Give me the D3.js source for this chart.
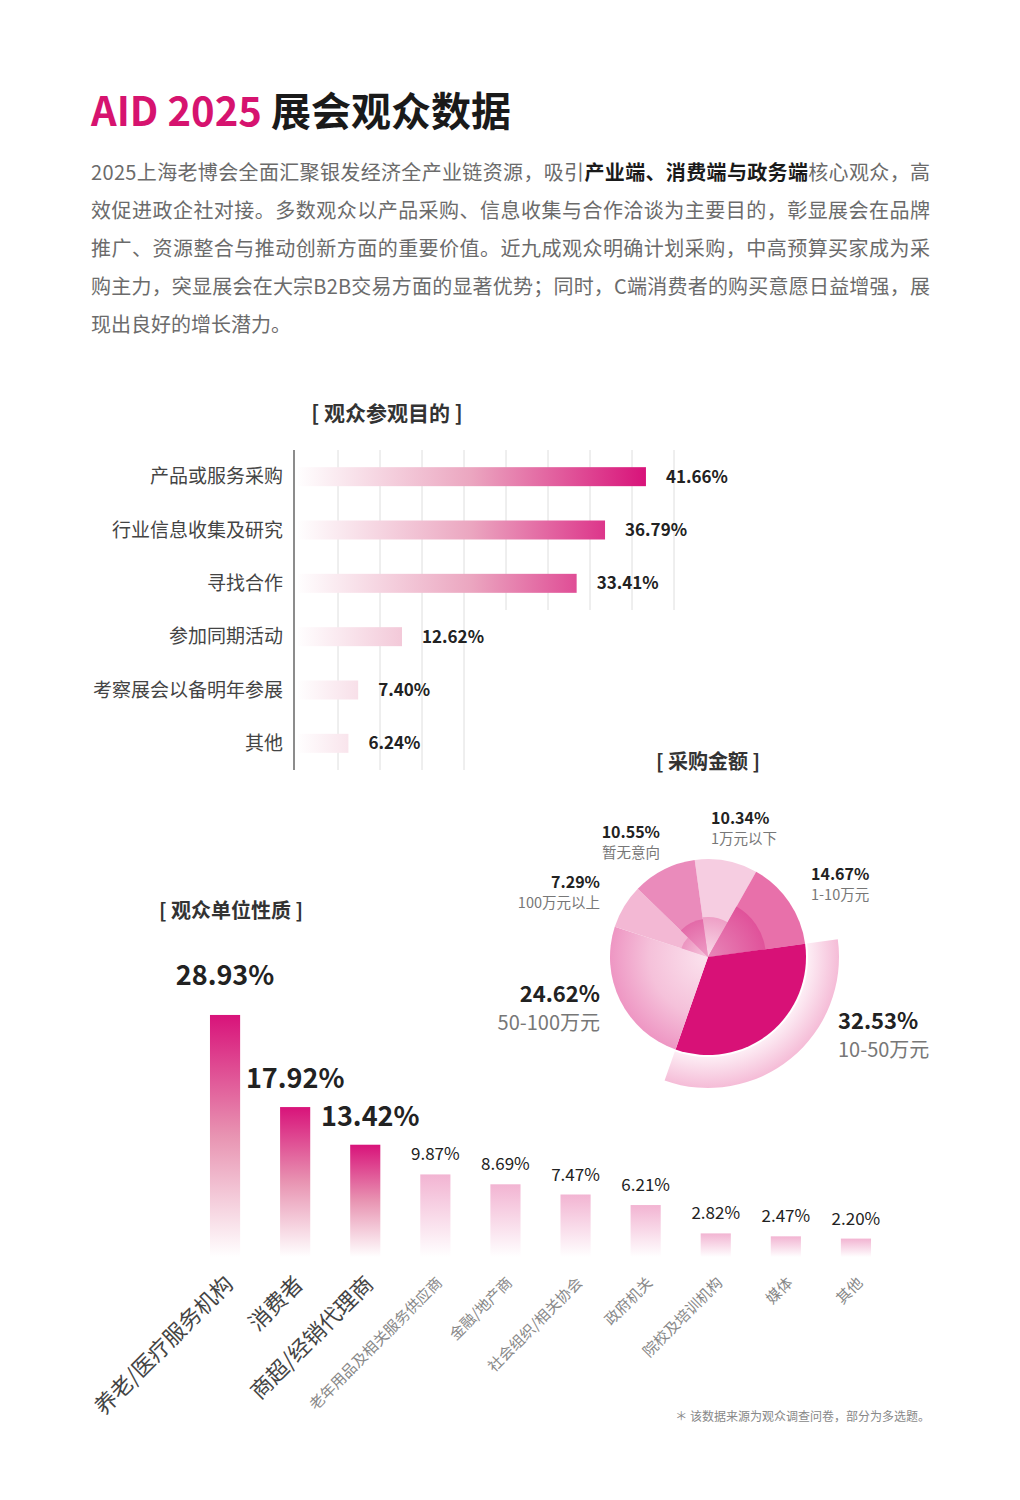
<!DOCTYPE html>
<html>
<head>
<meta charset="utf-8">
<script src="https://cdn.jsdelivr.net/npm/d3@7"></script>
<style>
  body { margin: 0; background: #fff; }
  svg { display: block; font-family: "Noto Sans CJK SC", "Noto Sans", sans-serif; }
</style>
</head>
<body>
<svg id="chart"></svg>
<script>
// ---- data ----
const introLines = [
  ["2025上海老博会全面汇聚银发经济全产业链资源，吸引", "产业端、消费端与政务端", "核心观众，高"],
  ["效促进政企社对接。多数观众以产品采购、信息收集与合作洽谈为主要目的，彰显展会在品牌"],
  ["推广、资源整合与推动创新方面的重要价值。近九成观众明确计划采购，中高预算买家成为采"],
  ["购主力，突显展会在大宗B2B交易方面的显著优势；同时，C端消费者的购买意愿日益增强，展"],
  ["现出良好的增长潜力。"]
];

const purposes = ["产品或服务采购", "行业信息收集及研究", "寻找合作", "参加同期活动", "考察展会以备明年参展", "其他"];
const purposeValues = [41.66, 36.79, 33.41, 12.62, 7.40, 6.24];

const budgets = ["1万元以下", "1-10万元", "10-50万元", "50-100万元", "100万元以上", "暂无意向"];
const budgetValues = [10.34, 14.67, 32.53, 24.62, 7.29, 10.55];

const orgTypes = ["养老/医疗服务机构", "消费者", "商超/经销代理商", "老年用品及相关服务供应商", "金融/地产商",
  "社会组织/相关协会", "政府机关", "院校及培训机构", "媒体", "其他"];
const orgValues = [28.93, 17.92, 13.42, 9.87, 8.69, 7.47, 6.21, 2.82, 2.47, 2.20];

// ---- page ----
const width = 1020, height = 1500;
const magenta = "#d8137a";
const svg = d3.select("#chart").attr("width", width).attr("height", height);
const defs = svg.append("defs");

svg.append("rect").attr("width", width).attr("height", height).attr("fill", "#fff");

// title
const title = svg.append("text").attr("x", 91).attr("y", 126)
  .attr("font-size", 40).attr("font-weight", 700);
title.append("tspan").attr("fill", "#d6136f").text("AID 2025 ");
title.append("tspan").attr("fill", "#1a1a1a").text("展会观众数据");

// intro paragraph, justified lines
introLines.forEach((parts, i) => {
  const t = svg.append("text").attr("x", 91).attr("y", 180 + i * 38)
    .attr("font-size", 20).attr("fill", "#6b6b6b");
  if (i < introLines.length - 1) t.attr("textLength", 839).attr("lengthAdjust", "spacing");
  parts.forEach((p, j) => {
    const s = t.append("tspan").text(p);
    if (parts.length > 1 && j === 1) s.attr("font-weight", 700).attr("fill", "#1a1a1a");
  });
});

// ---- chart 1: visit purpose (horizontal bars) ----
const x1 = d3.scaleLinear().domain([0, 45]).range([296, 674]);
const y1 = d3.scaleBand().domain(purposes).range([450, 770]);
const barH = 19;

svg.append("text").attr("x", 387).attr("y", 421).attr("text-anchor", "middle")
  .attr("font-size", 21).attr("font-weight", 700).attr("fill", "#333")
  .text("[ 观众参观目的 ]");

const hGrad = defs.append("linearGradient").attr("id", "hGrad")
  .attr("gradientUnits", "userSpaceOnUse")
  .attr("x1", x1(0)).attr("x2", x1(41.66)).attr("y1", 0).attr("y2", 0);
hGrad.append("stop").attr("offset", 0).attr("stop-color", "#fff");
hGrad.append("stop").attr("offset", 0.5).attr("stop-color", "#eba6c0");
hGrad.append("stop").attr("offset", 1).attr("stop-color", magenta);

// grid lines: those right of the short bars stop below the third row
const gridBottomShort = y1(purposes[2]) + y1.step();
svg.append("g").selectAll("line").data(d3.range(5, 46, 5)).join("line")
  .attr("x1", d => x1(d)).attr("x2", d => x1(d))
  .attr("y1", 450).attr("y2", d => d <= 20 ? 770 : gridBottomShort)
  .attr("stroke", "#dedede").attr("stroke-width", 1);

svg.append("line").attr("x1", x1(0) - 2).attr("x2", x1(0) - 2).attr("y1", 450).attr("y2", 770)
  .attr("stroke", "#666").attr("stroke-width", 1.5);

const rows = d3.zip(purposes, purposeValues);
svg.append("g").selectAll("rect").data(rows).join("rect")
  .attr("x", x1(0) + 2)
  .attr("y", d => y1(d[0]) + (y1.bandwidth() - barH) / 2)
  .attr("width", d => x1(d[1]) - x1(0) - 2)
  .attr("height", barH)
  .attr("fill", "url(#hGrad)");

svg.append("g").selectAll("text").data(rows).join("text")
  .attr("x", 283).attr("y", d => y1(d[0]) + y1.bandwidth() / 2)
  .attr("dy", "0.35em").attr("text-anchor", "end")
  .attr("font-size", 19).attr("fill", "#444").text(d => d[0]);

svg.append("g").selectAll("text").data(rows).join("text")
  .attr("x", d => x1(d[1]) + 20).attr("y", d => y1(d[0]) + y1.bandwidth() / 2)
  .attr("dy", "0.35em").attr("font-size", 17).attr("font-weight", 700).attr("fill", "#222")
  .text(d => d[1].toFixed(2) + "%");

// ---- chart 2: purchase budget (pie) ----
const cx = 708, cy = 957, r = 98;
const pieG = svg.append("g").attr("transform", `translate(${cx},${cy})`);

svg.append("text").attr("x", cx).attr("y", 769).attr("text-anchor", "middle")
  .attr("font-size", 20).attr("font-weight", 700).attr("fill", "#333")
  .text("[ 采购金额 ]");

const sliceStyle = {
  "1万元以下":   { outer: "#f6cde1", inner: ["#f9dbe9", "#ee9fc6"], innerR: 40 },
  "1-10万元":    { outer: "#e870aa", inner: ["#e886b8", "#e0529a"], innerR: 58 },
  "10-50万元":   { outer: "#d81177" },
  "50-100万元":  { grad: ["#fbe3ee", "#f5c1da", "#ee96c3"] },
  "100万元以上": { outer: "#f3b8d4", inner: ["#f6c9de", "#ec94c0"], innerR: 28 },
  "暂无意向":    { outer: "#ea8bbb", inner: ["#ee9dc6", "#e36aa8"], innerR: 38 }
};

const pie = d3.pie().sort(null).value(d => d[1])
  .startAngle(-7.8 * Math.PI / 180).endAngle(352.2 * Math.PI / 180);
const arcs = pie(d3.zip(budgets, budgetValues));

// highlight ring behind the biggest slice
const ringGrad = defs.append("radialGradient").attr("id", "ringGrad")
  .attr("gradientUnits", "userSpaceOnUse").attr("cx", 0).attr("cy", 0).attr("r", 131);
ringGrad.append("stop").attr("offset", 0.76).attr("stop-color", "#fdeef5");
ringGrad.append("stop").attr("offset", 1).attr("stop-color", "#f5bcd7");

const big = arcs.find(a => a.data[0] === "10-50万元");
pieG.append("path")
  .attr("d", d3.arc().innerRadius(r + 2).outerRadius(131)(big))
  .attr("fill", "url(#ringGrad)");

arcs.forEach((a, i) => {
  const st = sliceStyle[a.data[0]];
  let fill = st.outer;
  if (st.grad) {
    const g = defs.append("radialGradient").attr("id", "sg" + i)
      .attr("gradientUnits", "userSpaceOnUse").attr("cx", 0).attr("cy", 0).attr("r", r);
    g.append("stop").attr("offset", 0).attr("stop-color", st.grad[0]);
    g.append("stop").attr("offset", 0.6).attr("stop-color", st.grad[1]);
    g.append("stop").attr("offset", 1).attr("stop-color", st.grad[2]);
    fill = `url(#sg${i})`;
  }
  pieG.append("path").attr("d", d3.arc().innerRadius(0).outerRadius(r)(a)).attr("fill", fill);
  if (st.inner) {
    const g = defs.append("radialGradient").attr("id", "ig" + i)
      .attr("gradientUnits", "userSpaceOnUse").attr("cx", 0).attr("cy", 0).attr("r", st.innerR);
    g.append("stop").attr("offset", 0).attr("stop-color", st.inner[0]);
    g.append("stop").attr("offset", 1).attr("stop-color", st.inner[1]);
    pieG.append("path").attr("d", d3.arc().innerRadius(0).outerRadius(st.innerR)(a))
      .attr("fill", `url(#ig${i})`);
  }
});

// pie labels (placed around the pie like the design)
const pieLabelPos = {
  "1万元以下":   { x: 711, y: 824, anchor: "start", big: false },
  "1-10万元":    { x: 811, y: 880, anchor: "start", big: false },
  "10-50万元":   { x: 838, y: 1029, anchor: "start", big: true },
  "50-100万元":  { x: 600, y: 1002, anchor: "end", big: true },
  "100万元以上": { x: 600, y: 888, anchor: "end", big: false },
  "暂无意向":    { x: 660, y: 838, anchor: "end", big: false }
};
arcs.forEach(a => {
  const p = pieLabelPos[a.data[0]];
  svg.append("text").attr("x", p.x).attr("y", p.y).attr("text-anchor", p.anchor)
    .attr("font-size", p.big ? 22 : 16).attr("font-weight", 700).attr("fill", "#222")
    .text(a.data[1].toFixed(2) + "%");
  svg.append("text").attr("x", p.x).attr("y", p.y + (p.big ? 28 : 20)).attr("text-anchor", p.anchor)
    .attr("font-size", p.big ? 20 : 14.5).attr("fill", "#777")
    .text(a.data[0]);
});

// ---- chart 3: audience organisation type (vertical bars) ----
const x3 = d3.scaleBand().domain(orgTypes).range([190, 891]).paddingInner(0.57).paddingOuter(0.285);
const y3 = d3.scaleLinear().domain([0, 30]).range([1257, 1006]);
const orgRows = d3.zip(orgTypes, orgValues);
const topN = 3;

svg.append("text").attr("x", 231).attr("y", 918).attr("text-anchor", "middle")
  .attr("font-size", 20).attr("font-weight", 700).attr("fill", "#333")
  .text("[ 观众单位性质 ]");

const vDark = defs.append("linearGradient").attr("id", "vDark").attr("x1", 0).attr("x2", 0).attr("y1", 0).attr("y2", 1);
vDark.append("stop").attr("offset", 0).attr("stop-color", magenta);
vDark.append("stop").attr("offset", 0.5).attr("stop-color", "#e894b2");
vDark.append("stop").attr("offset", 1).attr("stop-color", "#fff");
const vLight = defs.append("linearGradient").attr("id", "vLight").attr("x1", 0).attr("x2", 0).attr("y1", 0).attr("y2", 1);
vLight.append("stop").attr("offset", 0).attr("stop-color", "#f2b4d2");
vLight.append("stop").attr("offset", 1).attr("stop-color", "#fff");

svg.append("g").selectAll("rect").data(orgRows).join("rect")
  .attr("x", d => x3(d[0]))
  .attr("y", d => y3(d[1]))
  .attr("width", x3.bandwidth())
  .attr("height", d => y3(0) - y3(d[1]))
  .attr("fill", (d, i) => i < topN ? "url(#vDark)" : "url(#vLight)");

svg.append("g").selectAll("text").data(orgRows).join("text")
  .attr("x", (d, i) => x3(d[0]) + x3.bandwidth() / 2 + (i === 2 ? 5 : 0))
  .attr("y", (d, i) => y3(d[1]) - (i === 0 ? 30 : i < topN ? 19 : 14))
  .attr("text-anchor", "middle")
  .attr("font-size", (d, i) => i < topN ? 27 : 17)
  .attr("font-weight", (d, i) => i < topN ? 700 : 400)
  .attr("fill", "#222")
  .text(d => d[1].toFixed(2) + "%");

svg.append("g").selectAll("text").data(orgRows).join("text")
  .attr("transform", d => `translate(${x3(d[0]) + x3.bandwidth() / 2 + 4},1280) rotate(-45)`)
  .attr("text-anchor", "end").attr("dy", "0.35em")
  .attr("font-size", (d, i) => i < topN ? 22 : 15)
  .attr("fill", (d, i) => i < topN ? "#444" : "#888")
  .text(d => d[0]);

// footnote
svg.append("text").attr("x", 930).attr("y", 1421).attr("text-anchor", "end")
  .attr("font-size", 12).attr("fill", "#888")
  .text("＊ 该数据来源为观众调查问卷，部分为多选题。");
</script>
</body>
</html>
